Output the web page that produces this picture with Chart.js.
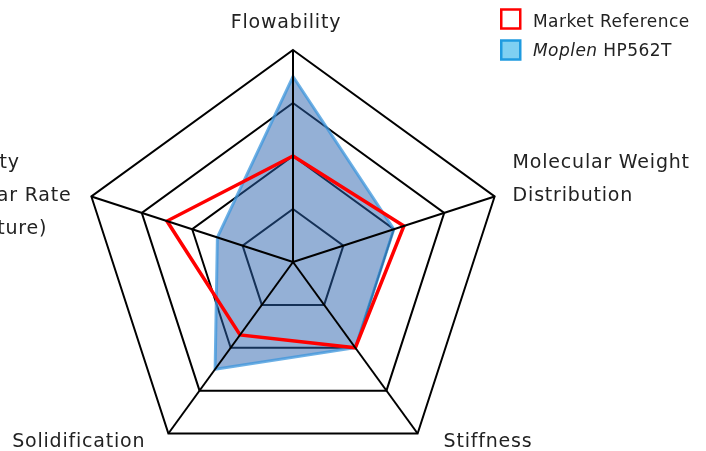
<!DOCTYPE html>
<html>
<head>
<meta charset="utf-8">
<title>Moplen HP562T radar</title>
<script src="https://cdn.jsdelivr.net/npm/chart.js@4.4.1/dist/chart.umd.min.js"></script>
<style>
  html, body { margin: 0; padding: 0; background: #fff; overflow: hidden; }
  #wrap { position: relative; width: 706px; height: 480px; }
</style>
</head>
<body>
<div id="wrap"><canvas id="radarChart"></canvas></div>
<script>
var categories = [
    'Flowability',
    ['Molecular Weight', 'Distribution'],
    'Stiffness',
    'Solidification',
    ['Viscosity', 'at High Shear Rate', '(Temperature)']
];
var seriesNames = ['Market Reference', 'Moplen HP562T'];
var marketReference = [2, 2.2, 2, 1.7, 2.5];
var moplenHP562T = [3.5, 2, 2, 2.5, 1.5];
var scaleSteps = [0, 1, 2, 3, 4];

// where each axis title sits, measured from its outer corner
var titlePlacement = [
    { align: 'center', dx: -7, dy: -22 },
    { align: 'left', dx: 18, dy: -28 },
    { align: 'left', dx: 26, dy: 13 },
    { align: 'right', dx: -23, dy: 13 },
    { align: 'center', dx: -117, dy: -28 }
];
var legendStyle = [
    { fill: '#ffffff', stroke: '#ff0000', italicFirstWord: false },
    { fill: '#7fd0f2', stroke: '#1f9be0', italicFirstWord: true }
];

var FONT = '"DejaVu Sans", "Liberation Sans", sans-serif';

var axisTitles = {
    id: 'axisTitles',
    afterDraw: function(chart) {
        var scale = chart.scales.r;
        var ctx = chart.ctx;
        ctx.save();
        ctx.fillStyle = '#222';
        ctx.textBaseline = 'alphabetic';
        ctx.font = '19px ' + FONT;
        ctx.letterSpacing = '0.8px';
        categories.forEach(function(label, i) {
            var corner = scale.getPointPosition(i, scale.drawingArea);
            var place = titlePlacement[i];
            ctx.textAlign = place.align;
            [].concat(label).forEach(function(line, j) {
                ctx.fillText(line, corner.x + place.dx, corner.y + place.dy + j * 33);
            });
        });

        // legend, top right
        ctx.textAlign = 'left';
        ctx.letterSpacing = '0.45px';
        ctx.lineWidth = 2.5;
        seriesNames.forEach(function(name, i) {
            var st = legendStyle[i];
            var top = 9.5 + i * 31;
            ctx.fillStyle = st.fill;
            ctx.strokeStyle = st.stroke;
            ctx.fillRect(501.25, top, 19, 19);
            ctx.strokeRect(501.25, top, 19, 19);

            ctx.fillStyle = '#222';
            var x = 533;
            var y = 27 + i * 29;
            var text = name;
            if (st.italicFirstWord) {
                var cut = name.indexOf(' ');
                ctx.font = 'italic 17px ' + FONT;
                ctx.fillText(name.slice(0, cut), x, y);
                x += ctx.measureText(name.slice(0, cut)).width;
                text = name.slice(cut);
            }
            ctx.font = '17px ' + FONT;
            ctx.fillText(text, x, y);
        });
        ctx.restore();
    }
};

var ctx = document.getElementById('radarChart').getContext('2d');
var chart = new Chart(ctx, {
    type: 'radar',
    data: {
        labels: categories,
        datasets: [{
            label: seriesNames[0],
            data: marketReference,
            rAxisID: 'r',
            borderColor: '#ff0000',
            borderWidth: 3.5,
            backgroundColor: 'rgba(0,0,0,0)',
            fill: false,
            pointRadius: 0,
            order: 0
        }, {
            label: seriesNames[1],
            data: moplenHP562T,
            rAxisID: 'r',
            borderColor: 'rgba(60, 150, 220, 0.75)',
            borderWidth: 3,
            backgroundColor: 'rgba(41, 97, 173, 0.5)',
            fill: true,
            pointRadius: 0,
            order: 1
        }]
    },
    options: {
        responsive: true,
        maintainAspectRatio: false,
        animation: false,
        layout: { padding: { left: 81, right: 201, top: 50, bottom: 6 } },
        elements: { line: { tension: 0, borderJoinStyle: 'miter' } },
        plugins: {
            legend: { display: false },
            tooltip: { enabled: false }
        },
        scales: {
            r: {
                min: scaleSteps[0],
                max: scaleSteps[scaleSteps.length - 1],
                ticks: { display: false, stepSize: 1 },
                pointLabels: { display: false },
                grid: { color: '#000', lineWidth: 2 },
                angleLines: { display: false }
            },
            // spokes sit above the filled area, like in the original
            spokes: {
                type: 'radialLinear',
                axis: 'r',
                min: scaleSteps[0],
                max: scaleSteps[scaleSteps.length - 1],
                ticks: { display: false, stepSize: 1 },
                pointLabels: { display: false },
                grid: { display: false, z: 1 },
                angleLines: { color: '#000', lineWidth: 2 }
            }
        }
    },
    plugins: [axisTitles]
});
</script>
</body>
</html>
